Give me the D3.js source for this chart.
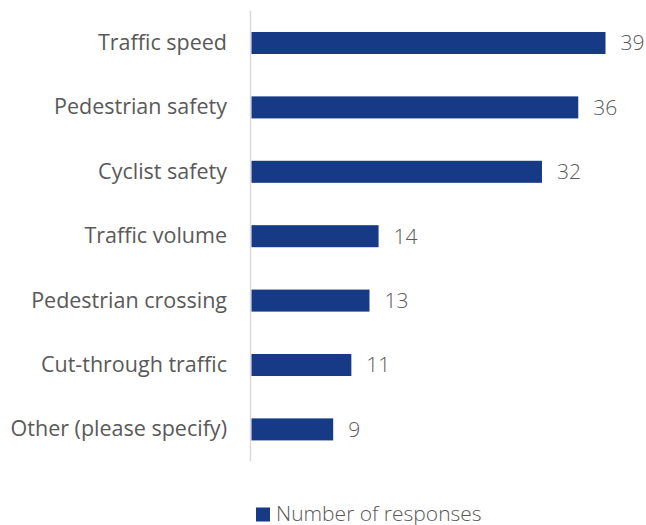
<!DOCTYPE html>
<html><head><meta charset="utf-8">
<script src="https://cdn.jsdelivr.net/npm/d3@7"></script>
<style>body{margin:0;background:#fff}svg{display:block}</style>
</head><body>
<script>
const categories = ["Traffic speed","Pedestrian safety","Cyclist safety","Traffic volume","Pedestrian crossing","Cut-through traffic","Other (please specify)"];
const values = [39,36,32,14,13,11,9];
const seriesName = "Number of responses";

const W=646,H=525;
const svg=d3.select("body").append("svg").attr("width",W).attr("height",H);
const x=d3.scaleLinear().domain([0,39]).range([251.5,605.5]);
const y=d3.scaleBand().domain(categories).range([10.8,461.6]).paddingInner(0.658).paddingOuter(0.329);
const font="'Open Sans', sans-serif";
const col="#595959", bar="#163a85";

svg.append("line").attr("x1",250.5).attr("x2",250.5).attr("y1",y.range()[0]).attr("y2",y.range()[1]).attr("stroke","#d9d9d9").attr("stroke-width",1.5);

svg.selectAll("rect.bar").data(values).join("rect").attr("class","bar")
 .attr("x",x(0)).attr("y",(d,i)=>y(categories[i])).attr("width",d=>x(d)-x(0)).attr("height",y.bandwidth()).attr("fill",bar);

svg.selectAll("text.cat").data(categories).join("text").attr("class","cat")
 .attr("x",227).attr("y",d=>y(d)+y.bandwidth()/2).attr("dy","0.33em").attr("text-anchor","end")
 .attr("font-family",font).attr("font-size",21.5).attr("fill",col).text(d=>d);

svg.selectAll("text.val").data(values).join("text").attr("class","val")
 .attr("x",d=>x(d)+15).attr("y",(d,i)=>y(categories[i])+y.bandwidth()/2).attr("dy","0.35em")
 .attr("font-family",font).attr("font-weight",300).attr("font-size",21).attr("fill",col).text(d=>d);

const lg=svg.append("g");
lg.append("rect").attr("x",256).attr("y",507.5).attr("width",14).attr("height",14).attr("fill",bar);
lg.append("text").attr("x",276).attr("y",513.5).attr("dy","0.35em").attr("font-family",font).attr("font-weight",300).attr("font-size",21).attr("fill",col).text(seriesName);
</script>
</body></html>
